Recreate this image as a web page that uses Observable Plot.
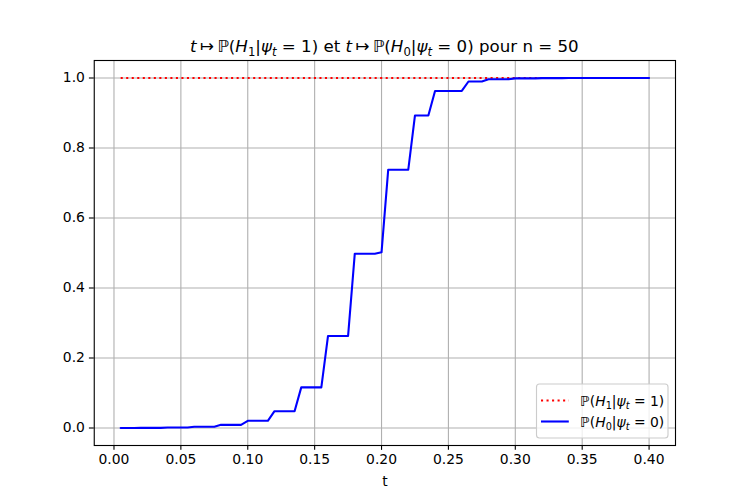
<!DOCTYPE html>
<html>
<head>
<meta charset="utf-8">
<script src="https://cdn.jsdelivr.net/npm/d3@7"></script>
<script src="https://cdn.jsdelivr.net/npm/@observablehq/plot@0.6"></script>
<style>
  html, body { margin: 0; padding: 0; background: white; }
  #chart svg { display: block; }
</style>
</head>
<body>
<div id="chart"></div>
<script>
// ---- data ----
const tValues = [
  0.005, 0.010, 0.015, 0.020, 0.025, 0.030, 0.035, 0.040, 0.045, 0.050,
  0.055, 0.060, 0.065, 0.070, 0.075, 0.080, 0.085, 0.090, 0.095, 0.100,
  0.105, 0.110, 0.115, 0.120, 0.125, 0.130, 0.135, 0.140, 0.145, 0.150,
  0.155, 0.160, 0.165, 0.170, 0.175, 0.180, 0.185, 0.190, 0.195, 0.200,
  0.205, 0.210, 0.215, 0.220, 0.225, 0.230, 0.235, 0.240, 0.245, 0.250,
  0.255, 0.260, 0.265, 0.270, 0.275, 0.280, 0.285, 0.290, 0.295, 0.300,
  0.305, 0.310, 0.315, 0.320, 0.325, 0.330, 0.335, 0.340, 0.345, 0.350,
  0.355, 0.360, 0.365, 0.370, 0.375, 0.380, 0.385, 0.390, 0.395, 0.400
];
const pH1given1 = [
  1, 1, 1, 1, 1, 1, 1, 1, 1, 1,
  1, 1, 1, 1, 1, 1, 1, 1, 1, 1,
  1, 1, 1, 1, 1, 1, 1, 1, 1, 1,
  1, 1, 1, 1, 1, 1, 1, 1, 1, 1,
  1, 1, 1, 1, 1, 1, 1, 1, 1, 1,
  1, 1, 1, 1, 1, 1, 1, 1, 1, 1,
  1, 1, 1, 1, 1, 1, 1, 1, 1, 1,
  1, 1, 1, 1, 1, 1, 1, 1, 1, 1
];
const pH0given0 = [
  0.0001, 0.0001, 0.0001, 0.0004, 0.0004, 0.0004, 0.0004, 0.0012, 0.0012, 0.0012,
  0.0012, 0.0035, 0.0035, 0.0035, 0.0035, 0.009, 0.009, 0.009, 0.009, 0.0205,
  0.0205, 0.0205, 0.0205, 0.048, 0.048, 0.048, 0.048, 0.116, 0.116, 0.116,
  0.116, 0.263, 0.263, 0.263, 0.263, 0.498, 0.498, 0.498, 0.498, 0.502,
  0.738, 0.738, 0.738, 0.738, 0.893, 0.893, 0.893, 0.963, 0.963, 0.963,
  0.963, 0.963, 0.990, 0.990, 0.990, 0.9966, 0.9966, 0.9966, 0.9966, 0.999,
  0.999, 0.999, 0.999, 0.9997, 0.9997, 0.9997, 0.9997, 0.9999, 0.9999, 0.9999,
  1.0, 1.0, 1.0, 1.0, 1.0, 1.0, 1.0, 1.0, 1.0, 1.0
];
const xTicks = [0.00, 0.05, 0.10, 0.15, 0.20, 0.25, 0.30, 0.35, 0.40];
const yTicks = [0.0, 0.2, 0.4, 0.6, 0.8, 1.0];
const xLabel = "t";

// ---- build tables ----
const redData = tValues.map((t, i) => ({t, p: pH1given1[i]}));
const blueData = tValues.map((t, i) => ({t, p: pH0given0[i]}));

const W = 750, H = 500;
const mL = 93.75, mR = 75, mT = 60, mB = 55;
const xpad = (0.4 - 0.005) * 0.05;
const FONT = "DejaVu Sans, Liberation Sans, sans-serif";
const tickFs = 13.9;
const PT = 100 / 72;            // matplotlib points -> px at 100 dpi
const LW = 1.5 * PT;            // line width
const DOT = `${1 * LW},${1.65 * LW}`;

const plot = Plot.plot({
  width: W, height: H,
  marginLeft: mL, marginRight: mR, marginTop: mT, marginBottom: mB,
  style: {fontFamily: FONT, fontSize: tickFs + "px", background: "white", color: "black"},
  x: {domain: [0.005 - xpad, 0.4 + xpad]},
  y: {domain: [-0.05, 1.05]},
  marks: [
    Plot.gridX(xTicks, {stroke: "#b0b0b0", strokeOpacity: 1, strokeWidth: 0.8 * PT}),
    Plot.gridY(yTicks, {stroke: "#b0b0b0", strokeOpacity: 1, strokeWidth: 0.8 * PT}),
    Plot.line(redData, {x: "t", y: "p", stroke: "#ff0000", strokeWidth: LW, strokeDasharray: DOT, strokeLinecap: "butt"}),
    Plot.line(blueData, {x: "t", y: "p", stroke: "#0000ff", strokeWidth: LW, strokeLinejoin: "round"}),
    Plot.frame({stroke: "black", strokeWidth: 0.8 * PT}),
    Plot.axisX({ticks: xTicks, tickFormat: d3.format(".2f"), tickSize: 3.5 * PT, tickPadding: 3.5, fontSize: tickFs, label: null, stroke: "black", strokeWidth: 0.8 * PT}),
    Plot.axisY({ticks: yTicks, tickFormat: d3.format(".1f"), tickSize: 3.5 * PT, tickPadding: 4.5, fontSize: tickFs, label: null, stroke: "black", strokeWidth: 0.8 * PT}),
    Plot.text([xLabel], {frameAnchor: "bottom", dy: 40, fontSize: tickFs, fill: "black", text: d => d})
  ]
});
document.getElementById("chart").appendChild(plot);

// ---- math-like rich text helper ----
const svg = d3.select(plot);
function richText(parent, x, y, parts, fs, anchor) {
  const t = parent.append("text")
    .attr("x", x).attr("y", y)
    .attr("text-anchor", anchor)
    .attr("font-family", FONT)
    .attr("font-size", fs)
    .attr("fill", "black");
  let shift = 0;
  for (const [s, kind] of parts) {
    const sp = t.append("tspan").text(s);
    let target = 0;
    if (kind === "sub" || kind === "subi") {
      target = fs * 0.22;
      sp.attr("font-size", fs * 0.7);
    }
    if (kind === "i" || kind === "subi") sp.attr("font-style", "italic");
    if (target !== shift) { sp.attr("dy", target - shift); shift = target; }
  }
  t.attr("xml:space", "preserve");
  return t;
}

// title
const titleParts = [
  ["t", "i"], ["\u2009\u21A6\u2009", ""], ["\u2119(", ""], ["H", "i"], ["1", "sub"], ["|", ""],
  ["\u03C8", "i"], ["t", "subi"], [" = 1)", ""], [" et ", ""],
  ["t", "i"], ["\u2009\u21A6\u2009", ""], ["\u2119(", ""], ["H", "i"], ["0", "sub"], ["|", ""],
  ["\u03C8", "i"], ["t", "subi"], [" = 0)", ""], [" pour n = 50", ""]
];
richText(svg, (mL + (W - mR)) / 2, 52, titleParts, 16.67, "middle");

// legend
const lg = svg.append("g");
lg.append("rect").attr("x", 536.5).attr("y", 384).attr("width", 131.5).attr("height", 54)
  .attr("rx", 3).attr("fill", "white").attr("fill-opacity", 0.8).attr("stroke", "#cccccc").attr("stroke-width", 0.8 * PT);
const rows = [
  {y: 400.5, color: "#ff0000", dash: DOT, parts: [["\u2119(", ""], ["H", "i"], ["1", "sub"], ["|", ""], ["\u03C8", "i"], ["t", "subi"], [" = 1)", ""]]},
  {y: 421.5, color: "#0000ff", dash: null, parts: [["\u2119(", ""], ["H", "i"], ["0", "sub"], ["|", ""], ["\u03C8", "i"], ["t", "subi"], [" = 0)", ""]]}
];
for (const r of rows) {
  const ln = lg.append("line").attr("x1", 541).attr("x2", 568.8).attr("y1", r.y).attr("y2", r.y)
    .attr("stroke", r.color).attr("stroke-width", LW);
  if (r.dash) ln.attr("stroke-dasharray", r.dash);
  richText(lg, 580, r.y + 5, r.parts, tickFs, "start");
}
</script>
</body>
</html>
